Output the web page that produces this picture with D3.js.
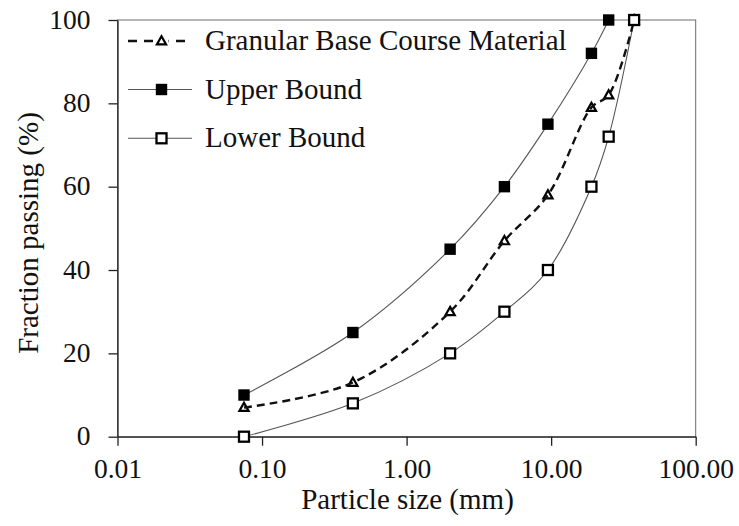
<!DOCTYPE html>
<html><head><meta charset="utf-8">
<script src="https://cdn.jsdelivr.net/npm/d3@7"></script>
</head><body style="margin:0;background:#fff"><svg id="c" width="739" height="526" font-family="Liberation Serif"></svg>
<script>
const sizes = [0.075, 0.425, 2.0, 4.75, 9.5, 19, 25, 37.5];
const granular = [7, 13, 30, 47, 58, 79, 82, 100];
const upper = [10, 25, 45, 60, 75, 92, 100];
const lower = [0, 8, 20, 30, 40, 60, 72, 100];
const xTicks = [0.01, 0.1, 1, 10, 100];
const yTicks = [0, 20, 40, 60, 80, 100];
const seriesNames = ["Granular Base Course Material", "Upper Bound", "Lower Bound"];

const FF = '"Liberation Serif"';
const svg = d3.select("#c");
const L = 117.5, R = 695.7, T = 20, B = 436.7;
const x = d3.scaleLog().domain([0.01, 100]).range([L, R]);
const y = d3.scaleLinear().domain([0, 100]).range([B, T]);
const tickFs = 27.5, legFs = 29, titleFs = 29;
const ink = "#111";

function styleText(sel, size) {
  return sel.attr("font-family", "Liberation Serif").style("font-family", FF).style("font-size", size + "px").attr("fill", ink);
}

svg.append("rect").attr("x", L).attr("y", T).attr("width", R - L).attr("height", B - T)
  .attr("fill", "none").attr("stroke", "#6a6a6a").attr("stroke-width", 1);

const xa = svg.append("g").attr("transform", `translate(0,${B})`)
  .call(d3.axisBottom(x).tickValues(xTicks).tickFormat(d3.format(".2f")).tickSizeOuter(0).tickSizeInner(9));
const ya = svg.append("g").attr("transform", `translate(${L},0)`)
  .call(d3.axisLeft(y).tickValues(yTicks).tickSizeOuter(0).tickSizeInner(9));
[xa, ya].forEach(a => {
  a.attr("font-family", "Liberation Serif").attr("font-size", tickFs);
  a.selectAll("path").attr("stroke", "#222").attr("stroke-width", 1.3);
  a.selectAll("line").attr("stroke", "#222").attr("stroke-width", 1.3);
  styleText(a.selectAll("text"), tickFs);
});
xa.selectAll("text").attr("y", 41).attr("dy", 0);
ya.selectAll("text").attr("x", -27).attr("dy", 8);

styleText(svg.append("text").attr("x", 407.5).attr("y", 509).attr("text-anchor", "middle"), titleFs).text("Particle size (mm)");
styleText(svg.append("text").attr("transform", `translate(38,233) rotate(-90)`).attr("text-anchor", "middle"), titleFs).text("Fraction passing  (%)");

const line = d3.line().x(d => x(d[0])).y(d => y(d[1])).curve(d3.curveCatmullRom.alpha(0.5));
const ptsU = upper.map((v, i) => [sizes[i], v]);
const ptsL = lower.map((v, i) => [sizes[i], v]);
const ptsG = granular.map((v, i) => [sizes[i], v]);

const thin = { c: "#555", w: 1.1 };
const dash = { c: "#111", w: 2.4, d: "8,5" };
svg.append("path").attr("d", line(ptsU)).attr("fill", "none").attr("stroke", thin.c).attr("stroke-width", thin.w);
svg.append("path").attr("d", line(ptsL)).attr("fill", "none").attr("stroke", thin.c).attr("stroke-width", thin.w);

function filledSq(g, cx, cy) { g.append("rect").attr("x", cx - 5.7).attr("y", cy - 5.7).attr("width", 11.4).attr("height", 11.4).attr("fill", "#000"); }
function openSq(g, cx, cy) { g.append("rect").attr("x", cx - 5).attr("y", cy - 5).attr("width", 10).attr("height", 10).attr("fill", "#fff").attr("stroke", "#000").attr("stroke-width", 2.3); }
function tri(g, cx, cy) { g.append("path").attr("d", `M${cx},${cy - 4.8}L${cx + 4.6},${cy + 3.4}L${cx - 4.6},${cy + 3.4}Z`).attr("fill", "none").attr("stroke", "#000").attr("stroke-width", 2.2); }

const mg = svg.append("g");
ptsG.forEach(p => tri(mg, x(p[0]), y(p[1])));
svg.append("path").attr("d", line(ptsG)).attr("fill", "none").attr("stroke", dash.c).attr("stroke-width", dash.w).attr("stroke-dasharray", dash.d);
const mg2 = svg.append("g");
ptsU.forEach(p => filledSq(mg2, x(p[0]), y(p[1])));
ptsL.forEach(p => openSq(mg2, x(p[0]), y(p[1])));

const lg = svg.append("g");
const rows = [41, 89.5, 138.3];
const lx0 = 128, lx1 = 192, lm = 161.5, tx = 205;
lg.append("line").attr("x1", lx0).attr("x2", lx1).attr("y1", rows[0]).attr("y2", rows[0]).attr("stroke", dash.c).attr("stroke-width", dash.w).attr("stroke-dasharray", "9,7");
lg.append("rect").attr("x", lm - 7).attr("y", rows[0] - 6).attr("width", 14).attr("height", 10).attr("fill", "#fff");
tri(lg, lm, rows[0]);
lg.append("line").attr("x1", lx0).attr("x2", lx1).attr("y1", rows[1]).attr("y2", rows[1]).attr("stroke", thin.c).attr("stroke-width", thin.w);
filledSq(lg, lm, rows[1]);
lg.append("line").attr("x1", lx0).attr("x2", lx1).attr("y1", rows[2]).attr("y2", rows[2]).attr("stroke", thin.c).attr("stroke-width", thin.w);
openSq(lg, lm, rows[2]);
seriesNames.forEach((n, i) => styleText(lg.append("text").attr("x", tx).attr("y", rows[i] + 9), legFs).text(n));
</script></body></html>
